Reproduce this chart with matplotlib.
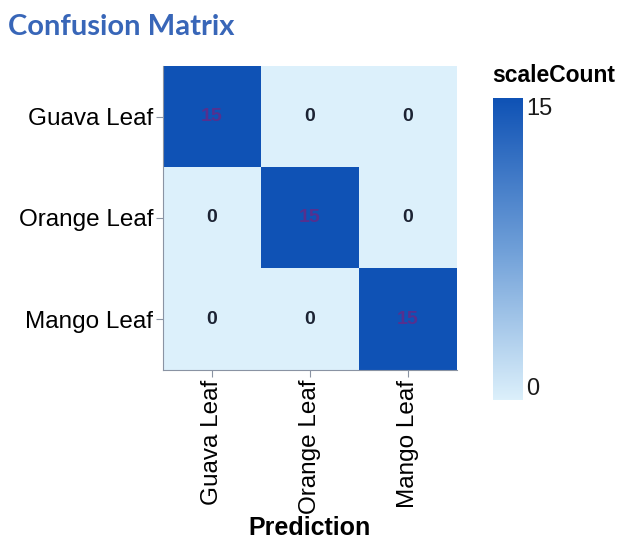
import matplotlib
matplotlib.use("Agg")
import matplotlib.pyplot as plt
import numpy as np
from matplotlib.colors import LinearSegmentedColormap

classes = ["Guava Leaf", "Orange Leaf", "Mango Leaf"]
counts = [[15, 0, 0],
          [0, 15, 0],
          [0, 0, 15]]
cbar_ticks = [0, 15]

plt.rcParams['font.family'] = ['Liberation Sans', 'DejaVu Sans']
cmap = LinearSegmentedColormap.from_list("c", ["#dcf0fb", "#6f9fd8", "#0f52b5"])

fig = plt.figure(figsize=(6.22, 5.42), dpi=100)
W, H = 622, 542
ax = fig.add_axes([163/W, 1-370/H, 294/W, 304/H])
data = np.array(counts)
ax.imshow(data, cmap=cmap, vmin=0, vmax=15, aspect='auto')
for i in range(3):
    for j in range(3):
        v = data[i, j]
        ax.text(j, i, str(v), ha='center', va='center', fontsize=14, fontweight='bold',
                color='#55308f' if v > 7 else '#1c2333')
ax.set_xticks(range(3))
ax.set_yticks(range(3))
ax.set_xticklabels(classes, rotation=90, fontsize=17.5)
ax.set_yticklabels(classes, fontsize=17.5)
ax.set_xlabel("Prediction", fontsize=18, fontweight='bold', labelpad=1)
for s in ['top', 'right']:
    ax.spines[s].set_visible(False)
for s in ['left', 'bottom']:
    ax.spines[s].set_color('#8a93a3')
ax.tick_params(color='#8a93a3', length=5, pad=2)

cax = fig.add_axes([493/W, 1-400/H, 30/W, 302/H])
grad = np.linspace(0, 15, 256).reshape(-1, 1)
cax.imshow(grad, cmap=cmap, aspect='auto', origin='lower', extent=[0, 1, 0, 15])
cax.set_xticks([])
cax.set_yticks([])
for s in cax.spines.values():
    s.set_visible(False)
cax.text(1.12, cbar_ticks[1], str(cbar_ticks[1]), transform=cax.get_yaxis_transform(),
         fontsize=17, va='top', ha='left', color='#1a1a1a')
cax.text(1.12, cbar_ticks[0], str(cbar_ticks[0]), transform=cax.get_yaxis_transform(),
         fontsize=17, va='bottom', ha='left', color='#1a1a1a')
fig.text(492/W, 1-76/H, "scaleCount", fontsize=16.5, fontweight='bold', ha='left', va='center')
fig.text(8/W, 1-27/H, "Confusion Matrix", fontsize=21, fontweight='bold', color='#3866b8',
         ha='left', va='center', family=['Lato', 'DejaVu Sans'])
fig.savefig("out.png", dpi=100)
